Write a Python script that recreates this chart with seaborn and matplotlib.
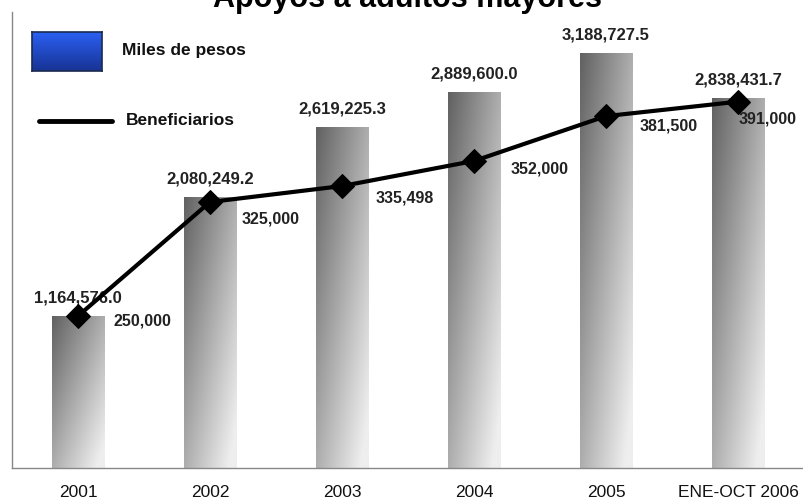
import numpy as np
import pandas as pd
import matplotlib
matplotlib.use("Agg")
import matplotlib.pyplot as plt
import seaborn as sns
from matplotlib.lines import Line2D

categories = ["2001", "2002", "2003", "2004", "2005", "ENE-OCT 2006"]
miles_de_pesos = [1164576.0, 2080249.2, 2619225.3, 2889600.0, 3188727.5, 2838431.7]
beneficiarios = [250000, 325000, 335498, 352000, 381500, 391000]
bar_labels = ["1,164,576.0", "2,080,249.2", "2,619,225.3", "2,889,600.0", "3,188,727.5", "2,838,431.7"]
line_labels = ["250,000", "325,000", "335,498", "352,000", "381,500", "391,000"]
title = "Apoyos a adultos mayores"
legend_bar = "Miles de pesos"
legend_line = "Beneficiarios"

# label placement offsets (pixels, right / down) -- styling only
line_label_dx = [36, 32, 34, 37, 34, 1]
line_label_dy = [5, 17, 12, 8, 10, 17]

sns.set_theme(style="white")
plt.rcParams["font.family"] = ["Liberation Sans", "DejaVu Sans"]

W, H = 804, 501
PX = 72 / 100  # points per pixel
fig = plt.figure(figsize=(W / 100, H / 100), dpi=100)
ax = fig.add_axes([12 / W, 33 / H, (W - 12) / W, 456 / H])

df = pd.DataFrame({"cat": categories, "val": miles_de_pesos})
sns.barplot(data=df, x="cat", y="val", ax=ax, width=0.4, color="#888888",
            edgecolor="none", linewidth=0)
ax.set_xlim(-0.5, len(categories) - 0.5)
ax.set_ylim(0, 3500000)

# gradient fill on bars
nx, ny = 64, 256
gx = np.linspace(0, 1, nx)[None, :]
gy = np.linspace(0, 1, ny)[:, None]
shade = 0.38 + 0.30 * gx + 0.30 * (1 - gy)
shade = np.clip(shade, 0, 0.93)
for p in list(ax.patches):
    x0, y0 = p.get_x(), p.get_y()
    w, h = p.get_width(), p.get_height()
    im = ax.imshow(shade, cmap="gray", vmin=0, vmax=1, origin="lower",
                   extent=[x0, x0 + w, y0, y0 + h], aspect="auto", zorder=2,
                   interpolation="bilinear")
    im.set_clip_path(p)
ax.set_xlim(-0.5, len(categories) - 0.5)
ax.set_ylim(0, 3500000)

for i, (v, lab) in enumerate(zip(miles_de_pesos, bar_labels)):
    ax.annotate(lab, (i, v), xytext=(0, 18 * PX), textcoords="offset points",
                ha="center", va="center", fontsize=12, fontweight="bold",
                color="#222222", zorder=6)

ax.set_xlabel("")
ax.set_ylabel("")
ax.set_yticks([])
ax.set_xticks(range(len(categories)))
ax.set_xticklabels(categories, fontsize=12.5)
ax.tick_params(axis="x", which="major", length=0, pad=12, colors="#111111")
ax.set_xticks(np.arange(-0.5, len(categories) - 0.5, 1), minor=True)
ax.tick_params(axis="x", which="minor", length=10, width=1, direction="inout",
               color="#888888")
for s in ["top", "right"]:
    ax.spines[s].set_visible(False)
for s in ["left", "bottom"]:
    ax.spines[s].set_color("#888888")
    ax.spines[s].set_linewidth(1)

ax2 = ax.twinx()
sns.lineplot(x=np.arange(len(categories)), y=beneficiarios, ax=ax2, color="black",
             linewidth=3, marker="D", markersize=12, markeredgecolor="black", zorder=5)
ax2.set_ylim(150000, 450000)
ax2.set_yticks([])
for s in ax2.spines.values():
    s.set_visible(False)
for i, (v, lab) in enumerate(zip(beneficiarios, line_labels)):
    ax2.annotate(lab, (i, v), xytext=(line_label_dx[i] * PX, -line_label_dy[i] * PX),
                 textcoords="offset points", ha="left", va="center", fontsize=11.5,
                 fontweight="bold", color="#222222", zorder=6)
ax2.set_xlim(-0.5, len(categories) - 0.5)

# title (partially cut at top as in reference)
fig.text(408 / W, 1 - 7 / H, title, ha="center", va="baseline", fontsize=22,
         fontweight="bold", color="black")

# custom legend
lax = fig.add_axes([32 / W, 1 - 71 / H, 70 / W, 39 / H])
grad = np.linspace(0, 1, 64)[:, None]
blue_top = np.array([0.17, 0.38, 0.96])
blue_bot = np.array([0.09, 0.20, 0.58])
img = blue_bot[None, None, :] * (1 - grad[:, :, None]) + blue_top[None, None, :] * grad[:, :, None]
img = np.repeat(img, 8, axis=1)
lax.imshow(img, origin="lower", aspect="auto", extent=[0, 1, 0, 1])
lax.set_xticks([])
lax.set_yticks([])
for s in lax.spines.values():
    s.set_color("#1a2a50")
    s.set_linewidth(1.2)
fig.text(122 / W, 1 - 50 / H, legend_bar, ha="left", va="center", fontsize=12.5,
         fontweight="bold", color="#111111")
fig.add_artist(Line2D([39 / W, 112 / W], [1 - 121 / H, 1 - 121 / H], color="black",
                      linewidth=3.5, transform=fig.transFigure))
fig.text(126 / W, 1 - 121 / H, legend_line, ha="left", va="center", fontsize=12.5,
         fontweight="bold", color="#111111")

fig.savefig("out.png", dpi=100)
